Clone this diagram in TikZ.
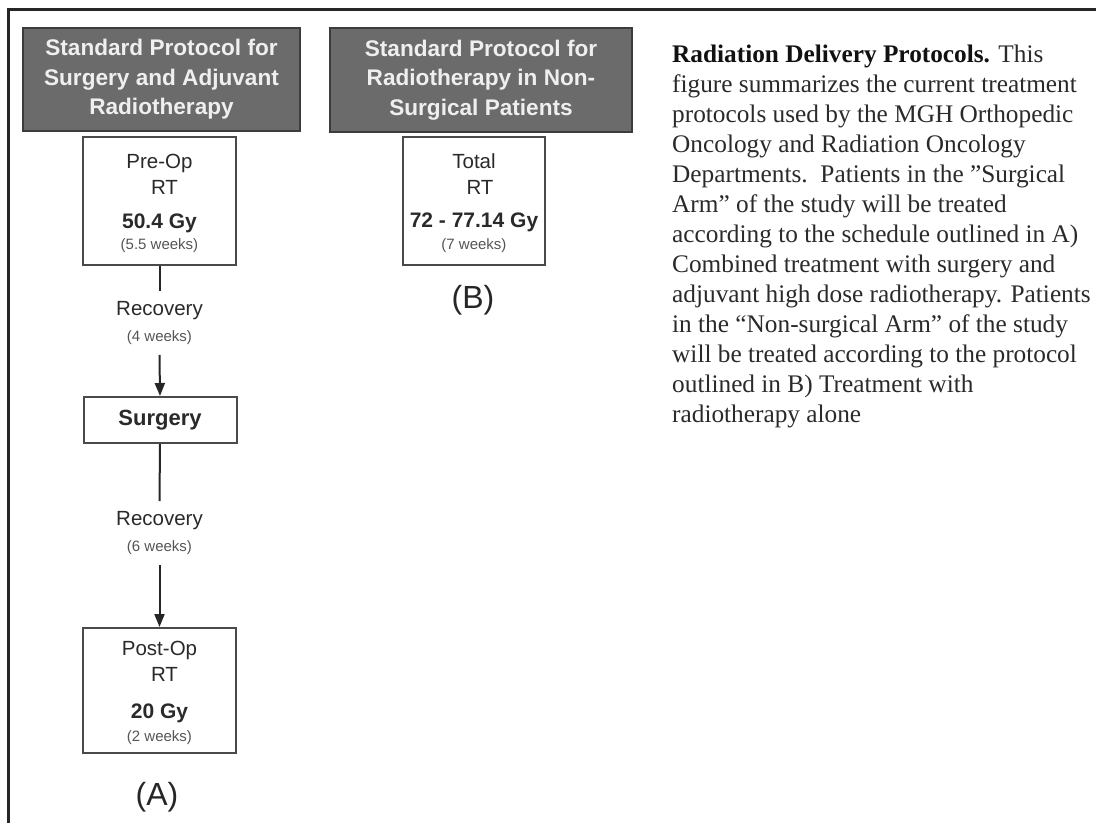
\documentclass[tikz,border=0pt]{standalone}
\usepackage{fontspec}
\setmainfont{Liberation Serif}
\setsansfont{Liberation Sans}
\usetikzlibrary{arrows.meta}
\definecolor{hdrfill}{HTML}{6B6B6B}
\definecolor{hdrdraw}{HTML}{3C3C3C}
\definecolor{hdrtext}{HTML}{EFEFEF}
\definecolor{boxdraw}{HTML}{4A4A4A}
\definecolor{maintext}{HTML}{2A2A2A}
\definecolor{subtext}{HTML}{555555}
\definecolor{captext}{HTML}{2A2A2A}
\definecolor{capbold}{HTML}{111111}
\newcommand{\wk}[1]{{\fontsize{15}{18}\selectfont\color{subtext}#1}}
\newcommand{\topx}{\rule{0pt}{20pt}}
\begin{document}
\begin{tikzpicture}[x=1pt,y=-1pt,
  hdr/.style={draw=hdrdraw,line width=2pt,fill=hdrfill,text=hdrtext,
    font=\sffamily\bfseries\fontsize{22.6}{29.5}\selectfont,align=center,inner sep=0pt},
  stepbox/.style={draw=boxdraw,line width=2pt,fill=white,text=maintext,
    font=\sffamily\fontsize{20.5}{26}\selectfont,align=center,inner sep=0pt},
  lbl/.style={text=maintext,font=\sffamily\fontsize{20.5}{26}\selectfont,
    align=center,inner xsep=0pt,inner ysep=10pt},
  conn/.style={draw=black!85,line width=2pt},
  arr/.style={conn,-{Triangle[length=13pt,width=10pt]}},
  big/.style={font=\sffamily\fontsize{32}{38}\selectfont,text=black!85,inner sep=0pt},
  caption/.style={anchor=north west,inner sep=0pt,align=left,text=captext,
    font=\rmfamily\fontsize{25.3}{30}\selectfont}
]
\fill[white] (0,0) rectangle (1096,823);
\useasboundingbox (0,0) rectangle (1096,823);
% frame
\coordinate (fbl) at (8,823);
\coordinate (ftl) at (8,9);
\coordinate (ftr) at (1096,9);
\draw[line width=3pt,black!85] (fbl) -- (ftl) -- (ftr);

% headers
\node[hdr,minimum width=277pt,minimum height=103pt] (hA) at (161.5,79.5)
  {Standard Protocol for\\Surgery and Adjuvant\\Radiotherapy};
\node[hdr,minimum width=302pt,minimum height=104pt] (hB) at (481,80)
  {Standard Protocol for\\Radiotherapy in Non-\\Surgical Patients};

% column A
\node[stepbox,minimum width=153pt,minimum height=128pt] (pre) at (159.5,201)
  {\topx Pre-Op\\\hspace*{10pt}RT\\[8pt]{\bfseries\fontsize{21}{26}\selectfont 50.4 Gy}\\[-5pt]\wk{(5.5 weeks)}};
\node[lbl] (rec1) at (159.5,323) {Recovery\\\wk{(4 weeks)}};
\node[stepbox,minimum width=153pt,minimum height=46pt,
  font=\sffamily\bfseries\fontsize{22}{26}\selectfont] (surg) at (160,420) {Surgery};
\node[lbl] (rec2) at (159.5,533) {Recovery\\\wk{(6 weeks)}};
\node[stepbox,minimum width=153pt,minimum height=125pt] (post) at (159.5,690.5)
  {\topx Post-Op\\\hspace*{10pt}RT\\[11pt]{\bfseries\fontsize{21}{26}\selectfont 20 Gy}\\[-3pt]\wk{(2 weeks)}};
\node[big] (labA) at (157,797) {(A)};

\draw[conn] (pre.south) -- (rec1.north);
\draw[arr] (rec1.south) -- (surg.north);
\draw[conn] (surg.south) -- (rec2.north);
\draw[arr] (rec2.south) -- (post.north);

% column B
\node[stepbox,minimum width=142pt,minimum height=128pt] (tot) at (474,201)
  {\topx Total\\\hspace*{12pt}RT\\[7pt]{\bfseries\fontsize{21}{26}\selectfont 72 - 77.14 Gy}\\[-4pt]\wk{(7 weeks)}};
\node[big] (labB) at (473,300) {(B)};

% caption
\node[caption] (cap) at (672,45)
  {{\bfseries\color{capbold}Radiation Delivery Protocols.} This\\
   figure summarizes the current treatment\\
   protocols used by the MGH Orthopedic\\
   Oncology and Radiation Oncology\\
   Departments.\ \ Patients in the "Surgical\\
   Arm" of the study will be treated\\
   according to the schedule outlined in A)\\
   Combined treatment with surgery and\\
   adjuvant high dose radiotherapy. Patients\\
   in the “Non-surgical Arm” of the study\\
   will be treated according to the protocol\\
   outlined in B) Treatment with\\
   radiotherapy alone};
\end{tikzpicture}
\end{document}
